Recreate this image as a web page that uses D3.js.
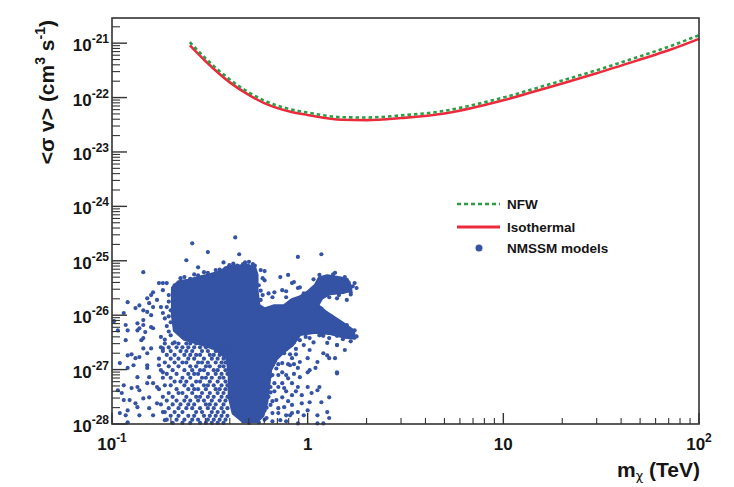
<!DOCTYPE html>
<html><head><meta charset="utf-8">
<script src="https://cdn.jsdelivr.net/npm/d3@7"></script>
<style>
body{margin:0;background:#fff}
svg{display:block}
text{font-family:"Liberation Sans",Arial,sans-serif;font-weight:bold;fill:#151515}
</style>
</head><body>
<svg id="chart" width="734" height="487"></svg>
<script>
// ---------------- DATA ----------------
const massTeV = [0.25,0.3,0.4,0.5,0.6,0.8,1,1.5,2,3,5,7,10,15,20,30,50,70,100];
const sigmaIsothermal = [9.1e-22,4.7e-22,1.9e-22,1.12e-22,7.9e-23,5.6e-23,4.8e-23,3.9e-23,3.85e-23,4.2e-23,5.1e-23,6.5e-23,8.9e-23,1.35e-22,1.82e-22,2.8e-22,5.0e-22,7.4e-22,1.2e-21];
const sigmaNFW = [1.04e-21,5.3e-22,2.15e-22,1.25e-22,8.8e-23,6.2e-23,5.3e-23,4.35e-23,4.3e-23,4.7e-23,5.7e-23,7.3e-23,1.0e-22,1.52e-22,2.06e-22,3.18e-22,5.75e-22,8.6e-22,1.4e-21];

const xTickExponents = [-1,0,1,2];
const yTickExponents = [-28,-27,-26,-25,-24,-23,-22,-21];
const xDomain = [0.1,100];
const yDomain = [1e-28,2.9e-21];

const legendLabels = ["NFW","Isothermal","NMSSM models"];

// NMSSM scan: outline of the saturated (solid) part of the cloud, [log10 m/TeV, log10 <sv>]
const nmssmDenseOutline = [
[-0.69,-25.72],[-0.69,-25.50],[-0.66,-25.39],[-0.61,-25.36],[-0.55,-25.30],[-0.50,-25.26],[-0.45,-25.21],
[-0.40,-25.10],[-0.35,-25.10],[-0.31,-25.08],[-0.27,-25.14],[-0.26,-25.26],[-0.26,-25.54],[-0.25,-25.82],
[-0.22,-25.89],[-0.17,-25.83],[-0.12,-25.83],[-0.08,-25.72],[-0.04,-25.67],[0.00,-25.58],[0.04,-25.45],
[0.06,-25.32],[0.10,-25.28],[0.17,-25.32],[0.21,-25.39],[0.22,-25.54],[0.18,-25.58],[0.11,-25.60],
[0.07,-25.69],[0.05,-25.82],[0.09,-25.94],[0.17,-26.13],[0.23,-26.28],[0.24,-26.42],[0.19,-26.40],
[0.11,-26.33],[0.04,-26.31],[-0.04,-26.35],[-0.08,-26.55],[-0.12,-26.66],[-0.16,-26.80],[-0.19,-27.00],
[-0.20,-27.30],[-0.21,-27.60],[-0.23,-27.85],[-0.26,-27.95],[-0.33,-27.95],[-0.38,-27.80],[-0.40,-27.50],
[-0.40,-27.10],[-0.41,-26.80],[-0.47,-26.62],[-0.55,-26.52],[-0.63,-26.44],[-0.68,-26.28],[-0.69,-26.00]
];

// NMSSM scan: individual models, [log10 m/TeV, log10 <sv>]
const nmssmPoints = [
// outliers above the cloud
[-0.37,-24.57],[-0.59,-24.68],[-0.51,-24.84],[-0.35,-24.88],[-0.05,-24.93],[0.07,-24.88],[-0.62,-24.99],[-0.43,-25.03],[-0.56,-25.12],[-0.84,-25.21],
// edges of the dense cloud
[-0.40,-25.08],[-0.24,-25.17],[-0.14,-25.30],[-0.10,-25.26],[-0.22,-25.36],[-0.08,-25.41],[0.03,-25.34],[-0.05,-25.50],[-0.02,-25.60],[-0.13,-25.54],
[-0.17,-25.58],[-0.18,-25.67],[-0.23,-25.63],[-0.11,-25.67],[0.15,-25.69],[0.11,-25.67],[0.22,-25.58],[0.20,-25.72],[0.15,-26.55],[-0.22,-25.19],
[-0.23,-25.32],[-0.07,-25.39],[-0.04,-25.49],[-0.11,-25.56],[-0.20,-25.60],[-0.24,-25.72],[0.23,-25.47],
[-0.65,-25.32],[-0.58,-25.25],[-0.47,-25.17],[-0.42,-25.14],[-0.32,-25.03],[-0.28,-25.06],[-0.53,-25.21],
[-0.71,-25.63],[-0.70,-26.37],[-0.68,-26.50],
[0.06,-25.26],[0.13,-25.25],[0.19,-25.30],[0.24,-25.41],[0.09,-25.54],
[0.17,-26.20],[0.24,-26.28],[0.25,-26.39],[0.22,-26.48],[0.11,-26.42],[0.01,-26.42],[-0.04,-26.46],
[-0.68,-25.45],[-0.63,-25.30],[-0.60,-25.33],[-0.56,-25.27],[-0.51,-25.22],[-0.49,-25.27],[-0.45,-25.16],[-0.38,-25.05],[-0.36,-25.09],[-0.33,-25.06],
[-0.30,-25.02],[-0.27,-25.09],[-0.71,-25.75],[-0.72,-25.85],[-0.71,-26.02],[-0.72,-26.20],[-0.71,-26.30],[-0.73,-26.45],
[-0.25,-25.45],[-0.24,-25.55],[-0.23,-25.90],[0.15,-26.38],[0.07,-26.36],[-0.01,-26.40],[-0.06,-26.44],
[0.14,-25.22],[0.20,-25.35],[0.22,-25.62],[0.16,-25.63],[0.25,-25.50],
[0.12,-26.02],[0.20,-26.18],[0.07,-25.88],[0.03,-25.75],[0.08,-26.38],[0.18,-26.44],[-0.07,-26.40],
[-0.19,-27.12],[-0.20,-27.50],[-0.21,-27.70],[-0.22,-27.92],[-0.18,-26.92],[-0.15,-26.75],[-0.11,-26.62],[-0.07,-26.50],
// sparse low-mass side
[-0.92,-25.76],[-0.94,-25.96],[-0.88,-25.87],[-0.86,-25.82],[-0.84,-25.91],[-0.82,-25.69],[-0.80,-25.63],[-0.79,-25.58],[-0.76,-25.41],[-0.74,-25.41],
[-0.72,-25.41],[-0.74,-25.54],[-0.77,-25.72],[-0.75,-25.85],[-0.79,-25.85],[-0.81,-25.78],[-0.82,-25.94],[-0.80,-26.00],[-0.74,-25.96],[-0.73,-26.06],
[-0.70,-25.91],[-0.70,-26.13],[-0.99,-26.11],[-0.93,-26.18],[-0.87,-26.15],[-0.84,-26.18],[-0.80,-26.22],[-0.97,-26.28],[-0.92,-26.28],[-0.87,-26.28],
[-0.84,-26.42],[-0.93,-26.46],[-0.92,-26.74],[-0.90,-26.72],[-0.88,-26.79],[-0.96,-26.88],[-0.92,-26.97],[-0.87,-27.14],[-0.94,-27.29],[-0.97,-27.38],
[-0.95,-27.43],[-0.87,-27.32],[-0.88,-27.62],[-0.92,-27.75],[-0.96,-27.80],[-0.93,-27.84],[-0.92,-27.97],[-0.84,-26.09],[-0.84,-26.61],[-0.82,-26.92],
[-0.81,-27.14],[-0.86,-26.24],[-0.83,-26.31],[-0.79,-26.24],[-0.85,-26.46],[-0.75,-26.40],[-0.86,-26.77],[-0.82,-26.70],[-0.80,-26.61],[-0.74,-26.61],
[-0.89,-26.92],[-0.82,-26.97],[-0.76,-26.92],[-0.74,-27.05],[-0.90,-27.34],[-0.86,-27.38],[-0.82,-27.25],[-0.79,-27.25],[-0.77,-27.32],[-0.94,-27.56],
[-0.91,-27.56],[-0.84,-27.53],[-0.81,-27.51],[-0.87,-27.69],[-0.81,-27.71],[-0.77,-27.62],[-0.86,-27.84],[-0.79,-27.84],[-0.74,-27.78],[-0.73,-27.93],
// speckled region below the dense cloud
[-0.73,-26.52],[-0.69,-26.52],[-0.66,-26.52],[-0.62,-26.52],[-0.60,-26.52],[-0.57,-26.52],[-0.53,-26.52],[-0.51,-26.52],[-0.48,-26.52],[-0.44,-26.52],[-0.42,-26.52],[-0.40,-26.52],
[-0.75,-26.59],[-0.71,-26.59],[-0.67,-26.59],[-0.64,-26.59],[-0.61,-26.59],[-0.58,-26.59],[-0.55,-26.59],[-0.52,-26.59],[-0.49,-26.59],[-0.46,-26.59],[-0.43,-26.59],[-0.41,-26.59],
[-0.74,-26.66],[-0.70,-26.66],[-0.65,-26.66],[-0.62,-26.66],[-0.59,-26.66],[-0.54,-26.66],[-0.51,-26.66],[-0.47,-26.66],[-0.44,-26.66],[-0.41,-26.66],
[-0.72,-26.73],[-0.68,-26.73],[-0.63,-26.73],[-0.60,-26.73],[-0.57,-26.73],[-0.55,-26.73],[-0.50,-26.73],[-0.48,-26.73],[-0.45,-26.73],[-0.42,-26.73],[-0.40,-26.73],
[-0.76,-26.80],[-0.70,-26.80],[-0.66,-26.80],[-0.61,-26.80],[-0.58,-26.80],[-0.53,-26.80],[-0.49,-26.80],[-0.46,-26.80],[-0.43,-26.80],[-0.41,-26.80],
[-0.73,-26.87],[-0.68,-26.87],[-0.64,-26.87],[-0.62,-26.87],[-0.56,-26.87],[-0.54,-26.87],[-0.51,-26.87],[-0.47,-26.87],[-0.44,-26.87],[-0.42,-26.87],
[-0.71,-26.94],[-0.66,-26.94],[-0.60,-26.94],[-0.57,-26.94],[-0.52,-26.94],[-0.50,-26.94],[-0.45,-26.94],[-0.43,-26.94],[-0.40,-26.94],
[-0.75,-27.01],[-0.69,-27.01],[-0.63,-27.01],[-0.59,-27.01],[-0.55,-27.01],[-0.53,-27.01],[-0.48,-27.01],[-0.46,-27.01],[-0.42,-27.01],
[-0.72,-27.08],[-0.67,-27.08],[-0.61,-27.08],[-0.58,-27.08],[-0.56,-27.08],[-0.51,-27.08],[-0.47,-27.08],[-0.44,-27.08],[-0.41,-27.08],
[-0.74,-27.15],[-0.70,-27.15],[-0.64,-27.15],[-0.60,-27.15],[-0.54,-27.15],[-0.52,-27.15],[-0.49,-27.15],[-0.45,-27.15],[-0.43,-27.15],
[-0.68,-27.22],[-0.65,-27.22],[-0.62,-27.22],[-0.57,-27.22],[-0.55,-27.22],[-0.50,-27.22],[-0.46,-27.22],[-0.42,-27.22],
[-0.73,-27.29],[-0.70,-27.29],[-0.63,-27.29],[-0.59,-27.29],[-0.53,-27.29],[-0.51,-27.29],[-0.48,-27.29],[-0.44,-27.29],[-0.41,-27.29],
[-0.76,-27.36],[-0.67,-27.36],[-0.61,-27.36],[-0.58,-27.36],[-0.56,-27.36],[-0.52,-27.36],[-0.47,-27.36],[-0.45,-27.36],[-0.42,-27.36],
[-0.71,-27.43],[-0.66,-27.43],[-0.64,-27.43],[-0.59,-27.43],[-0.54,-27.43],[-0.50,-27.43],[-0.46,-27.43],[-0.43,-27.43],
[-0.74,-27.50],[-0.69,-27.50],[-0.62,-27.50],[-0.57,-27.50],[-0.55,-27.50],[-0.51,-27.50],[-0.48,-27.50],[-0.44,-27.50],[-0.41,-27.50],
[-0.72,-27.57],[-0.67,-27.57],[-0.63,-27.57],[-0.60,-27.57],[-0.56,-27.57],[-0.53,-27.57],[-0.49,-27.57],[-0.45,-27.57],[-0.42,-27.57],
[-0.75,-27.64],[-0.69,-27.64],[-0.65,-27.64],[-0.61,-27.64],[-0.58,-27.64],[-0.52,-27.64],[-0.50,-27.64],[-0.47,-27.64],[-0.43,-27.64],
[-0.71,-27.71],[-0.66,-27.71],[-0.62,-27.71],[-0.59,-27.71],[-0.55,-27.71],[-0.51,-27.71],[-0.48,-27.71],[-0.44,-27.71],[-0.41,-27.71],
[-0.73,-27.78],[-0.68,-27.78],[-0.64,-27.78],[-0.57,-27.78],[-0.54,-27.78],[-0.49,-27.78],[-0.46,-27.78],[-0.43,-27.78],
[-0.70,-27.85],[-0.66,-27.85],[-0.61,-27.85],[-0.58,-27.85],[-0.53,-27.85],[-0.50,-27.85],[-0.47,-27.85],[-0.44,-27.85],[-0.41,-27.85],
[-0.72,-27.92],[-0.67,-27.92],[-0.63,-27.92],[-0.59,-27.92],[-0.56,-27.92],[-0.51,-27.92],[-0.48,-27.92],[-0.45,-27.92],[-0.42,-27.92],
[-0.69,-27.98],[-0.64,-27.98],[-0.60,-27.98],[-0.55,-27.98],[-0.52,-27.98],[-0.49,-27.98],[-0.46,-27.98],[-0.43,-27.98],
// region right of the central column
[0.06,-26.37],[0.10,-26.51],[0.19,-26.64],[0.15,-27.05],[0.10,-26.74],[0.14,-26.79],[0.08,-26.70],[0.05,-26.86],[0.01,-26.64],[0.04,-26.97],
[0.00,-27.05],[-0.04,-27.14],[0.00,-26.79],[-0.05,-26.97],[-0.09,-26.92],[-0.08,-26.79],[-0.13,-27.05],[-0.10,-27.16],[-0.15,-27.32],[-0.12,-27.34],
[-0.05,-27.32],[0.00,-27.32],[0.06,-27.32],[0.05,-27.38],[0.02,-27.43],[-0.03,-27.47],[-0.08,-27.47],[-0.13,-27.51],[-0.16,-27.56],[-0.19,-27.42],
[0.11,-27.51],[0.01,-27.60],[-0.03,-27.62],[-0.08,-27.65],[-0.12,-27.69],[-0.15,-27.71],[-0.19,-27.65],[-0.23,-27.60],[0.00,-27.75],[-0.05,-27.78],
[-0.11,-27.84],[-0.18,-27.80],[0.05,-27.84],[0.10,-27.78],[0.11,-27.89],[-0.14,-27.93],[-0.21,-27.89],[0.08,-27.99],[-0.27,-27.93],
[0.15,-27.07],[0.11,-26.79],[0.01,-27.01],[0.07,-27.60],[-0.02,-27.84],[0.05,-27.99],[-0.09,-27.84],[-0.05,-27.99],[0.15,-26.55],
[-0.20,-26.60],[-0.16,-26.62],[-0.12,-26.70],[-0.06,-26.62],[-0.02,-26.55],[0.03,-26.50],
[-0.21,-26.78],[-0.17,-26.85],[-0.13,-26.88],[-0.04,-26.86],
[-0.20,-27.00],[-0.16,-26.98],[-0.07,-27.08],[-0.21,-27.20],[-0.17,-27.25],[-0.19,-27.32],
[-0.23,-27.45],[-0.22,-27.75],[-0.25,-27.97],[-0.30,-27.98],[-0.33,-27.95],
[-0.18,-26.58],[-0.14,-26.58],[-0.10,-26.58],[-0.19,-26.72],[-0.15,-26.72],[-0.09,-26.72],[-0.06,-26.72],
[-0.18,-26.90],[-0.15,-26.90],[-0.10,-26.90],[-0.07,-26.90],[-0.18,-27.10],[-0.15,-27.10],[-0.11,-27.10],
[-0.13,-27.25],[-0.08,-27.25],[-0.17,-27.40],[-0.11,-27.40],[-0.06,-27.40],[-0.18,-27.58],[-0.10,-27.58],
[-0.15,-27.80],[-0.08,-27.80],[-0.18,-27.95],[-0.11,-27.95]
];

// ---------------- CHART ----------------
const svg = d3.select("#chart");
const plotLeft = 112, plotRight = 699, plotTop = 18, plotBottom = 424;
const x = d3.scaleLog().domain(xDomain).range([plotLeft, plotRight]);
const y = d3.scaleLog().domain(yDomain).range([plotBottom, plotTop]);

const blue = "#3553a4", red = "#ec2a3c", green = "#2f9d46", frameColor = "#333";

// dense part of the scan
svg.append("path")
  .datum(nmssmDenseOutline)
  .attr("d", d3.line().x(d => x(10 ** d[0])).y(d => y(10 ** d[1])).curve(d3.curveLinearClosed))
  .attr("fill", blue).attr("stroke", blue).attr("stroke-width", 3.5).attr("stroke-linejoin", "round");

// individual models
svg.append("g").selectAll("circle").data(nmssmPoints).join("circle")
  .attr("cx", d => x(10 ** d[0])).attr("cy", d => y(10 ** d[1])).attr("r", 2.1)
  .attr("fill", blue);

// limit curves
const curveLine = (vals) => d3.line().x((d, i) => x(massTeV[i])).y(d => y(d)).curve(d3.curveMonotoneX)(vals);
svg.append("path").attr("d", curveLine(sigmaIsothermal)).attr("fill", "none")
  .attr("stroke", red).attr("stroke-width", 2.6);
svg.append("path").attr("d", curveLine(sigmaNFW)).attr("fill", "none")
  .attr("stroke", green).attr("stroke-width", 2.6).attr("stroke-dasharray", "3.5,3");

// frame
svg.append("rect").attr("x", plotLeft).attr("y", plotTop).attr("width", plotRight - plotLeft).attr("height", plotBottom - plotTop)
  .attr("fill", "none").attr("stroke", frameColor).attr("stroke-width", 1.6);

// y ticks (inward)
const yt = svg.append("g");
yTickExponents.forEach(e => {
  const v = Math.pow(10, e);
  yt.append("line").attr("x1", plotLeft).attr("x2", plotLeft + 15).attr("y1", y(v)).attr("y2", y(v))
    .attr("stroke", frameColor).attr("stroke-width", 1.4);
  for (let k = 2; k <= 9; k++) {
    const mv = k * v;
    if (mv <= yDomain[1]) {
      yt.append("line").attr("x1", plotLeft).attr("x2", plotLeft + 8).attr("y1", y(mv)).attr("y2", y(mv))
        .attr("stroke", frameColor).attr("stroke-width", 1.1);
    }
  }
  const t = yt.append("text").attr("x", 109).attr("y", y(v) + 8).attr("text-anchor", "end")
    .attr("font-size", 17);
  t.append("tspan").text("10");
  t.append("tspan").attr("dy", -8).attr("font-size", 12).text(String(e));
});

// x ticks (inward)
const xt = svg.append("g");
xTickExponents.forEach(e => {
  const v = Math.pow(10, e);
  xt.append("line").attr("x1", x(v)).attr("x2", x(v)).attr("y1", plotBottom).attr("y2", plotBottom - 11)
    .attr("stroke", frameColor).attr("stroke-width", 1.4);
  if (e < 2) for (let k = 2; k <= 9; k++) {
    xt.append("line").attr("x1", x(k * v)).attr("x2", x(k * v)).attr("y1", plotBottom).attr("y2", plotBottom - 6)
      .attr("stroke", frameColor).attr("stroke-width", 1.1);
  }
  const t = xt.append("text").attr("x", x(v)).attr("y", 450).attr("text-anchor", "middle").attr("font-size", 17);
  if (e === 0) t.text("1");
  else if (e === 1) t.text("10");
  else {
    t.append("tspan").text("10");
    t.append("tspan").attr("dy", -8).attr("font-size", 12).text(String(e));
  }
});

// axis titles
const yTitle = svg.append("text").attr("transform", "translate(54,20) rotate(-90)")
  .attr("text-anchor", "end").attr("font-size", 21);
yTitle.append("tspan").text("<\u03c3 v> (cm");
yTitle.append("tspan").attr("dy", -9).attr("font-size", 14).text("3");
yTitle.append("tspan").attr("dy", 9).text(" s");
yTitle.append("tspan").attr("dy", -9).attr("font-size", 14).text("-1");
yTitle.append("tspan").attr("dy", 9).text(")");

const xTitle = svg.append("text").attr("x", 700).attr("y", 477).attr("text-anchor", "end").attr("font-size", 21);
xTitle.append("tspan").text("m");
xTitle.append("tspan").attr("dy", 3).attr("font-size", 13).attr("font-family", "DejaVu Sans").attr("font-weight", "normal").text("\u03c7");
xTitle.append("tspan").attr("dy", -3).text(" (TeV)");

// legend
const lg = svg.append("g");
lg.append("line").attr("x1", 457).attr("x2", 500).attr("y1", 204).attr("y2", 204)
  .attr("stroke", green).attr("stroke-width", 2.6).attr("stroke-dasharray", "4,3");
lg.append("line").attr("x1", 457).attr("x2", 500).attr("y1", 227).attr("y2", 227)
  .attr("stroke", red).attr("stroke-width", 3);
lg.append("circle").attr("cx", 479).attr("cy", 248).attr("r", 3.5).attr("fill", blue);
legendLabels.forEach((s, i) => {
  lg.append("text").attr("x", 507).attr("y", [208.5, 231.5, 252.5][i]).attr("font-size", 13.5).text(s);
});
</script>
</body></html>
